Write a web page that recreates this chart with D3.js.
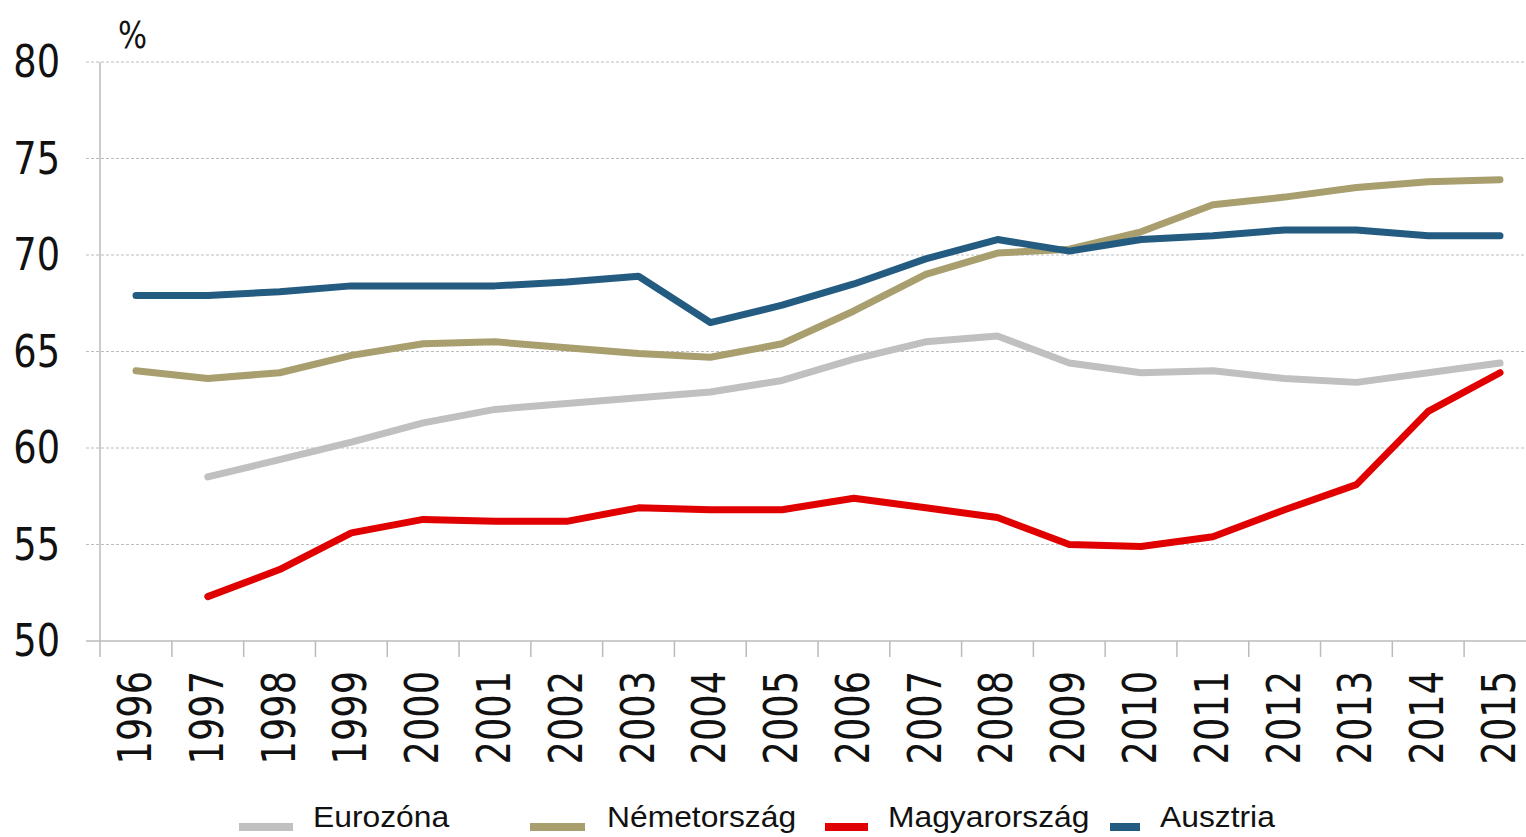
<!DOCTYPE html>
<html><head><meta charset="utf-8">
<script src="https://cdn.jsdelivr.net/npm/d3@7"></script>
<style>html,body{margin:0;padding:0;background:#fff;}svg{display:block;}</style>
</head><body>
<script>
const years = [1996,1997,1998,1999,2000,2001,2002,2003,2004,2005,2006,2007,2008,2009,2010,2011,2012,2013,2014,2015];
const eurozona = [null,58.5,59.4,60.3,61.3,62.0,62.3,62.6,62.9,63.5,64.6,65.5,65.8,64.4,63.9,64.0,63.6,63.4,63.9,64.4];
const nemetorszag = [64.0,63.6,63.9,64.8,65.4,65.5,65.2,64.9,64.7,65.4,67.1,69.0,70.1,70.3,71.2,72.6,73.0,73.5,73.8,73.9];
const magyarorszag = [null,52.3,53.7,55.6,56.3,56.2,56.2,56.9,56.8,56.8,57.4,56.9,56.4,55.0,54.9,55.4,56.8,58.1,61.9,63.9];
const ausztria = [67.9,67.9,68.1,68.4,68.4,68.4,68.6,68.9,66.5,67.4,68.5,69.8,70.8,70.2,70.8,71.0,71.3,71.3,71.0,71.0];
const seriesNames = ["Eurozóna","Németország","Magyarország","Ausztria"];
const seriesColors = ["#c0c0c0","#a89e6e","#e00000","#245b81"];
const yTicks = [50,55,60,65,70,75,80];

const series = [
  {name:seriesNames[0], color:seriesColors[0], values:eurozona},
  {name:seriesNames[1], color:seriesColors[1], values:nemetorszag},
  {name:seriesNames[2], color:seriesColors[2], values:magyarorszag},
  {name:seriesNames[3], color:seriesColors[3], values:ausztria}
];

const W=1526,H=837;
const svg=d3.select("body").append("svg").attr("width",W).attr("height",H);
const x=d3.scalePoint().domain(years).range([136,1500]);
const step=x.step();
const y=d3.scaleLinear().domain([50,80]).range([641,62]);

// gridlines
svg.append("g").selectAll("line").data(yTicks.filter(d=>d>50)).join("line")
  .attr("x1",86).attr("x2",W).attr("y1",d=>y(d)).attr("y2",d=>y(d))
  .attr("stroke","#bdbdbd").attr("stroke-width",1).attr("stroke-dasharray","3,2");
// x axis line
svg.append("line").attr("x1",86).attr("x2",W).attr("y1",y(50)).attr("y2",y(50))
  .attr("stroke","#bbbbbb").attr("stroke-width",1.5);
// y axis line
svg.append("line").attr("x1",100).attr("x2",100).attr("y1",y(80)).attr("y2",657)
  .attr("stroke","#bbbbbb").attr("stroke-width",1.5);
// x ticks at band boundaries
svg.append("g").selectAll("line").data(years.slice(1)).join("line")
  .attr("x1",d=>x(d)-step/2).attr("x2",d=>x(d)-step/2).attr("y1",y(50)).attr("y2",657)
  .attr("stroke","#bbbbbb").attr("stroke-width",1.5);

// y labels
svg.append("g").selectAll("text").data(yTicks).join("text")
  .attr("transform",d=>`translate(60,${y(d)+15}) scale(1.02,1.12)`)
  .attr("text-anchor","end")
  .attr("font-family","DejaVu Sans Condensed, DejaVu Sans")
  .attr("font-size",40).attr("fill","#111").text(d=>d);
// % label
svg.append("text").attr("transform","translate(118,48) scale(1,1.1)").attr("font-family","DejaVu Sans Condensed, DejaVu Sans")
  .attr("font-size",34).attr("fill","#111").text("%");

// x labels rotated
svg.append("g").selectAll("text").data(years).join("text")
  .attr("transform",d=>`translate(${x(d)+15},671) rotate(-90) scale(1.02,1.15)`)
  .attr("text-anchor","end")
  .attr("font-family","DejaVu Sans Condensed, DejaVu Sans")
  .attr("font-size",40).attr("fill","#111").text(d=>d);

// lines
const line=d3.line().defined(d=>d[1]!=null).x(d=>x(d[0])).y(d=>y(d[1]));
svg.append("g").selectAll("path").data(series).join("path")
  .attr("d",s=>line(years.map((yr,i)=>[yr,s.values[i]])))
  .attr("fill","none").attr("stroke",s=>s.color).attr("stroke-width",7)
  .attr("stroke-linejoin","round").attr("stroke-linecap","round");

// legend
const legendPos=[{sx:239,sw:54,tx:313},{sx:530,sw:55,tx:607},{sx:825,sw:43,tx:888},{sx:1110,sw:30,tx:1160}];
const lg=svg.append("g").selectAll("g").data(series).join("g");
lg.append("rect").attr("x",(d,i)=>legendPos[i].sx).attr("y",823).attr("width",(d,i)=>legendPos[i].sw).attr("height",8)
  .attr("fill",d=>d.color);
lg.append("text").attr("transform",(d,i)=>`translate(${legendPos[i].tx},827) scale(1.06,1)`)
  .attr("font-family","Liberation Sans Narrow, Liberation Sans, Arial")
  .attr("font-size",30).attr("fill","#111").text(d=>d.name);
</script>
</body></html>
